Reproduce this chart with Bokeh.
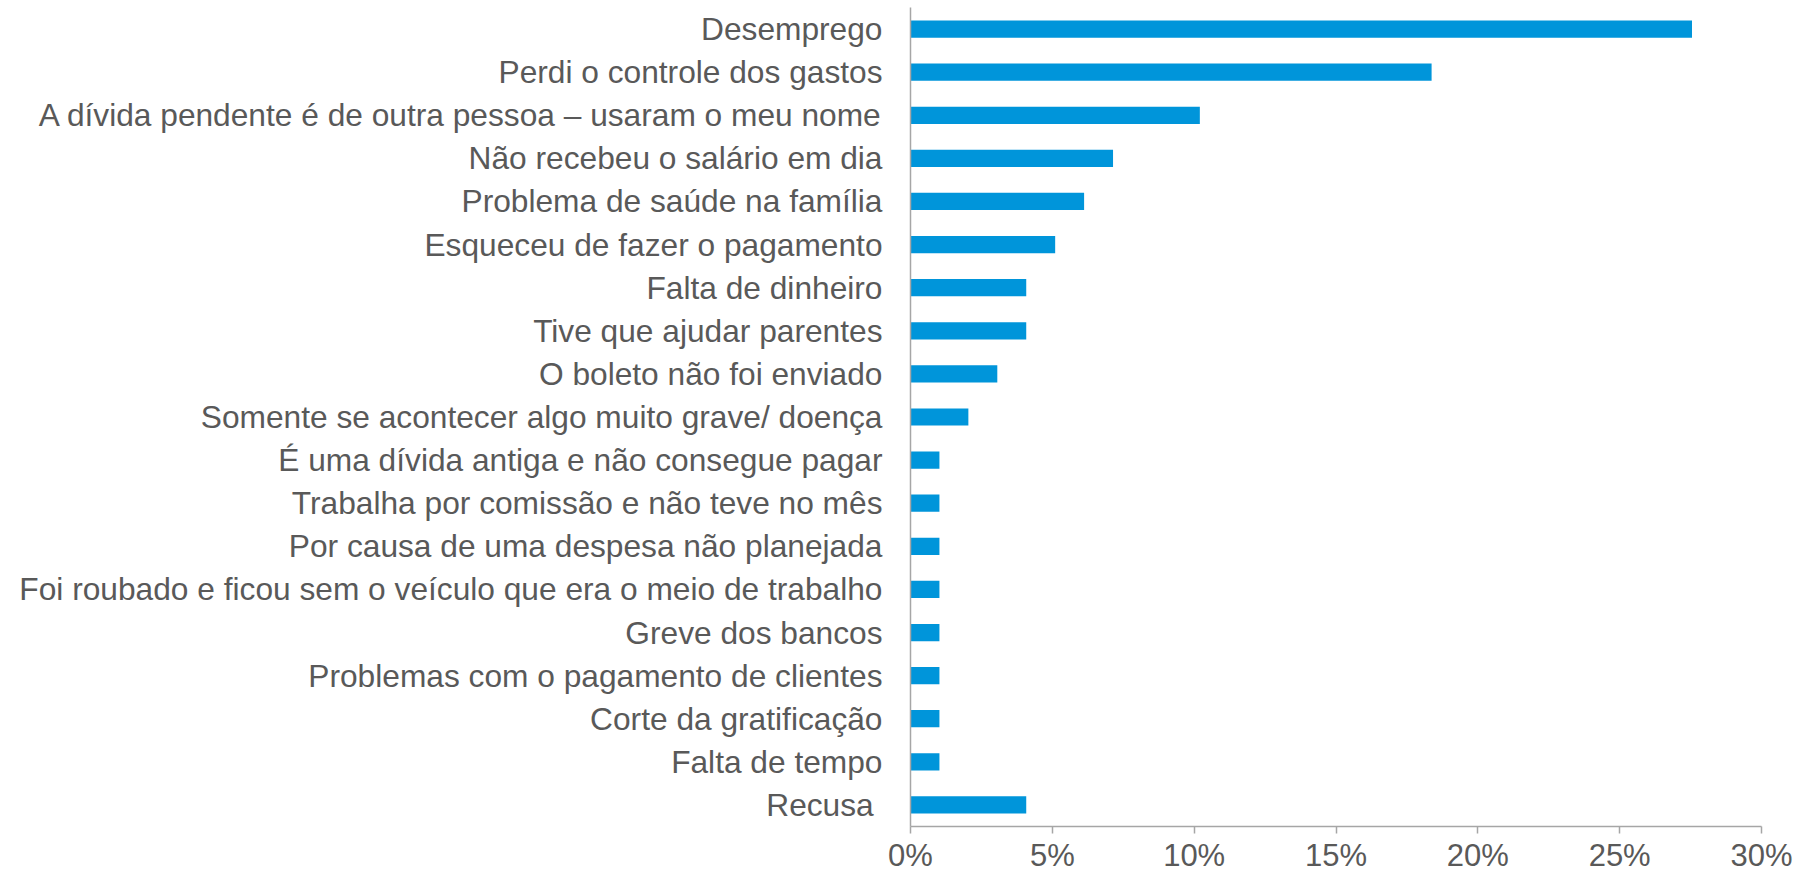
from bokeh.plotting import figure
from bokeh.models import FactorRange, Range1d, FixedTicker, PrintfTickFormatter, ColumnDataSource
from bokeh.embed import file_html
from bokeh.resources import INLINE

categories = [
    "Desemprego",
    "Perdi o controle dos gastos",
    "A dívida pendente é de outra pessoa – usaram o meu nome",
    "Não recebeu o salário em dia",
    "Problema de saúde na família",
    "Esqueceu de fazer o pagamento",
    "Falta de dinheiro",
    "Tive que ajudar parentes",
    "O boleto não foi enviado",
    "Somente se acontecer algo muito grave/ doença",
    "É uma dívida antiga e não consegue pagar",
    "Trabalha por comissão e não teve no mês",
    "Por causa de uma despesa não planejada",
    "Foi roubado e ficou sem o veículo que era o meio de trabalho",
    "Greve dos bancos",
    "Problemas com o pagamento de clientes",
    "Corte da gratificação",
    "Falta de tempo",
    "Recusa ",
]
values = [27.55, 18.37, 10.20, 7.14, 6.12, 5.10, 4.08, 4.08, 3.06, 2.04,
          1.02, 1.02, 1.02, 1.02, 1.02, 1.02, 1.02, 1.02, 4.08]
tick_values = [0, 5, 10, 15, 20, 25, 30]

FONT = "Liberation Sans"
TEXT = "#595959"
AXIS = "#A6A6A6"
BAR = "#0095DA"

src = ColumnDataSource(dict(cat=categories, val=values))

p = figure(
    width=1796, height=876,
    y_range=FactorRange(factors=categories[::-1]),
    x_range=Range1d(0, 30),
    output_backend="svg", toolbar_location=None,
    min_border_left=910, min_border_right=35,
    min_border_top=7, min_border_bottom=50,
)
p.hbar(y="cat", left=0, right="val", height=0.4, source=src,
       fill_color=BAR, line_color=None)

p.outline_line_color = None
p.xgrid.grid_line_color = None
p.ygrid.grid_line_color = None
p.background_fill_color = "white"
p.border_fill_color = "white"

xa = p.xaxis[0]
xa.ticker = FixedTicker(ticks=tick_values)
xa.formatter = PrintfTickFormatter(format="%d%%")
xa.axis_line_color = AXIS
xa.axis_line_width = 1.5
xa.major_tick_line_color = AXIS
xa.major_tick_line_width = 1.5
xa.major_tick_out = 7
xa.major_tick_in = 0
xa.minor_tick_line_color = None
xa.major_label_text_font = FONT
xa.major_label_text_font_size = "31px"
xa.major_label_text_color = TEXT
xa.major_label_standoff = 4

ya = p.yaxis[0]
ya.axis_line_color = AXIS
ya.axis_line_width = 1.5
ya.major_tick_line_color = None
ya.major_tick_out = 0
ya.major_tick_in = 0
ya.minor_tick_line_color = None
ya.major_label_text_font = FONT
ya.major_label_text_font_size = "31.7px"
ya.major_label_text_color = TEXT
ya.major_label_standoff = 28

open("out.html", "w").write(file_html(p, INLINE))
